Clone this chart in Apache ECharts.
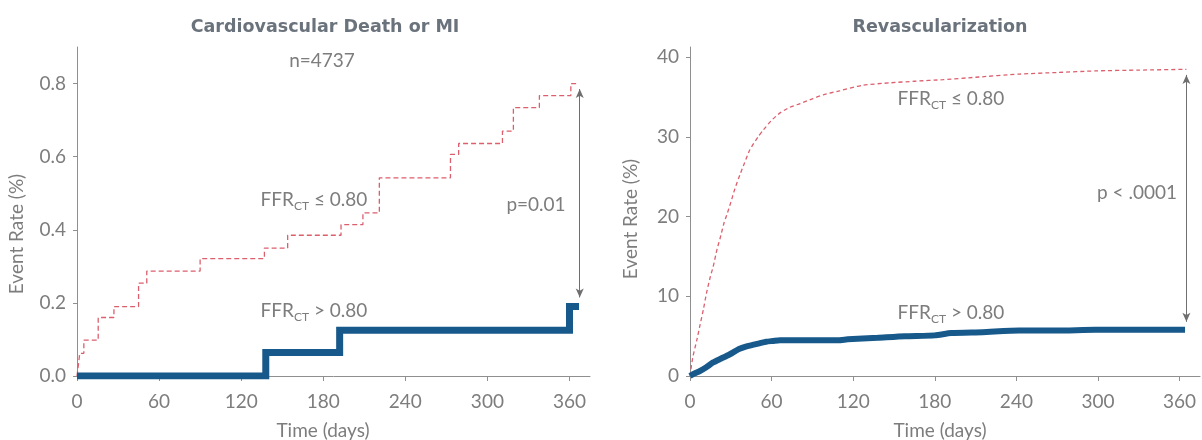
<!doctype html>
<html>
    <head>
        <meta charset="utf-8">
        <title>FFRct outcomes</title>
        <style>
            html, body { margin: 0; padding: 0; background: #fff; }
            #main { width: 1202px; height: 440px; }
        </style>
    </head>
    <body>
        <div id="main"></div>
        <script src="https://cdn.jsdelivr.net/npm/echarts@6/dist/echarts.min.js"></script>
        <script>
            // tick labels
            var dayTicks = [0, 60, 120, 180, 240, 300, 360];
            var cvRateTicks = [0, 0.2, 0.4, 0.6, 0.8];
            var revRateTicks = [0, 10, 20, 30, 40];

            // Cardiovascular death or MI, [day, event rate %]
            var cvFfrLow = [
                [0, 0], [1, 0.03], [2, 0.062], [5, 0.098], [15.5, 0.16], [27, 0.19],
                [45, 0.254], [51, 0.287], [90, 0.321], [137, 0.35], [154, 0.385],
                [193, 0.414], [209, 0.446], [221, 0.542], [273, 0.606], [279, 0.636],
                [311, 0.67], [319, 0.734], [338, 0.767], [361, 0.8], [366, 0.8]
            ];
            var cvFfrHigh = [
                [0, 0], [138, 0.064], [192, 0.125], [360, 0.19], [367, 0.19]
            ];

            // Revascularization, [day, event rate %]
            var revFfrLow = [
                [0, 0], [2, 2.3], [5, 4.5], [7, 6.1], [10, 8.5], [12, 10.3], [15, 12.5],
                [17, 13.7], [20, 16.0], [22, 17.2], [25, 19.2], [27, 20.2], [30, 21.8],
                [33, 23.5], [37, 25.4], [40, 26.7], [44, 28.4], [50, 30.0], [54, 30.9],
                [60, 32.1], [66, 33.0], [73, 33.7], [81, 34.2], [90, 34.8], [98, 35.3],
                [110, 35.8], [127, 36.5], [147, 36.8], [165, 37], [186, 37.2], [210, 37.5],
                [242, 37.9], [270, 38.1], [298, 38.3], [330, 38.4], [365, 38.5]
            ];
            var revFfrHigh = [
                [0, 0], [3, 0.3], [7, 0.6], [12, 1.1], [17, 1.7], [23, 2.2], [29, 2.7],
                [33, 3.1], [36, 3.4], [41, 3.7], [46, 3.9], [51, 4.1], [56, 4.3], [61, 4.4],
                [66, 4.5], [90, 4.5], [109, 4.5], [116, 4.6], [138, 4.8], [158, 5.0],
                [180, 5.1], [192, 5.4], [215, 5.5], [242, 5.7], [270, 5.7], [298, 5.8],
                [330, 5.8], [364, 5.8]
            ];

            var FONT = 'Lato, "Open Sans", sans-serif';
            var TITLE_FONT = '"DejaVu Sans", Lato, sans-serif';
            var GREY = '#7d7d7d';
            var AXIS = '#8f8f8f';
            var RED = '#dc5f6e';
            var BLUE = '#17598b';

            function xAxisFor(gridIndex) {
                return {
                    type: 'value', gridIndex: gridIndex, min: 0, max: 375,
                    axisLine: { lineStyle: { color: AXIS } },
                    axisTick: { length: 5, customValues: dayTicks, lineStyle: { color: AXIS } },
                    axisLabel: { customValues: dayTicks, margin: 16, color: GREY, fontSize: 19, fontFamily: FONT },
                    splitLine: { show: false }
                };
            }

            function yAxisFor(gridIndex, max, ticks, digits) {
                return {
                    type: 'value', gridIndex: gridIndex, min: 0, max: max,
                    axisLine: { show: true, lineStyle: { color: AXIS } },
                    axisTick: { show: true, length: 4, customValues: ticks, lineStyle: { color: AXIS } },
                    axisLabel: {
                        customValues: ticks, margin: 11, color: GREY, fontSize: 19, fontFamily: FONT,
                        formatter: function (v) { return v.toFixed(digits); }
                    },
                    splitLine: { show: false }
                };
            }

            function text(x, y, str) {
                return {
                    type: 'text', silent: true,
                    style: {
                        x: x, y: y, text: str, align: 'center', verticalAlign: 'middle',
                        fill: GREY, font: '19px ' + FONT
                    }
                };
            }

            function ffrLabel(x, y, rest) {
                return {
                    type: 'text', silent: true,
                    style: {
                        x: x, y: y, align: 'center', verticalAlign: 'middle',
                        text: '{a|FFR}{b|CT}{a| ' + rest + '}',
                        rich: {
                            a: { fontSize: 19, lineHeight: 24, fontFamily: FONT, fill: GREY },
                            b: { fontSize: 12, lineHeight: 13, fontFamily: FONT, fill: GREY, verticalAlign: 'bottom' }
                        }
                    }
                };
            }

            function axisName(x, y, str) {
                return {
                    type: 'text', silent: true, x: x, y: y, rotation: Math.PI / 2,
                    style: { x: 0, y: 0, text: str, align: 'center', verticalAlign: 'middle', fill: GREY, font: '19px ' + FONT }
                };
            }

            var arrowLine = function (x, y0, y1) {
                return {
                    silent: true, symbol: ['arrow', 'arrow'], symbolSize: [6, 9],
                    label: { show: false },
                    lineStyle: { color: '#6f6f6f', width: 1, type: 'solid' },
                    emphasis: { disabled: true },
                    data: [[{ coord: [x, y0] }, { coord: [x, y1] }]]
                };
            };

            var chart = echarts.init(document.getElementById('main'));

            chart.setOption({
                animation: false,
                title: [{
                    text: 'Cardiovascular Death or MI', left: 325, top: 18, textAlign: 'center', padding: 0,
                    textStyle: { color: '#6a727c', fontSize: 17.5, fontWeight: 'bold', fontFamily: TITLE_FONT }
                }, {
                    text: 'Revascularization', left: 940, top: 18, textAlign: 'center', padding: 0,
                    textStyle: { color: '#6a727c', fontSize: 17.5, fontWeight: 'bold', fontFamily: TITLE_FONT }
                }],
                grid: [
                    { left: 77, top: 47, width: 513, bottom: 64 },
                    { left: 690, top: 47, width: 510, bottom: 64 }
                ],
                xAxis: [xAxisFor(0), xAxisFor(1)],
                yAxis: [
                    yAxisFor(0, 0.9, cvRateTicks, 1),
                    yAxisFor(1, 41.3, revRateTicks, 0)
                ],
                series: [{
                    type: 'line', xAxisIndex: 0, yAxisIndex: 0, step: 'end', symbol: 'none',
                    data: cvFfrLow,
                    lineStyle: { color: RED, width: 1.3, type: [5, 3] },
                    markLine: arrowLine(367.5, 0.785, 0.215)
                }, {
                    type: 'line', xAxisIndex: 0, yAxisIndex: 0, step: 'end', symbol: 'none',
                    data: cvFfrHigh, z: 3,
                    lineStyle: { color: BLUE, width: 7, join: 'miter', cap: 'butt' }
                }, {
                    type: 'line', xAxisIndex: 1, yAxisIndex: 1, symbol: 'none', smooth: 0.2,
                    data: revFfrLow,
                    lineStyle: { color: RED, width: 1.3, type: [4, 3] },
                    markLine: arrowLine(365, 37.8, 6.8)
                }, {
                    type: 'line', xAxisIndex: 1, yAxisIndex: 1, symbol: 'none', smooth: 0.2,
                    data: revFfrHigh, z: 3,
                    lineStyle: { color: BLUE, width: 6 }
                }],
                graphic: [
                    text(322, 61, 'n=4737'),
                    ffrLabel(314, 200, '≤ 0.80'),
                    ffrLabel(314, 311, '> 0.80'),
                    text(536, 205, 'p=0.01'),
                    ffrLabel(951, 99, '≤ 0.80'),
                    ffrLabel(951, 313, '> 0.80'),
                    text(1137, 193, 'p < .0001'),
                    axisName(17, 234, 'Event Rate (%)'),
                    axisName(631, 219, 'Event Rate (%)'),
                    text(323, 431, 'Time (days)'),
                    text(940, 431, 'Time (days)')
                ]
            });

            window.addEventListener('resize', chart.resize);
        </script>
    </body>
</html>
